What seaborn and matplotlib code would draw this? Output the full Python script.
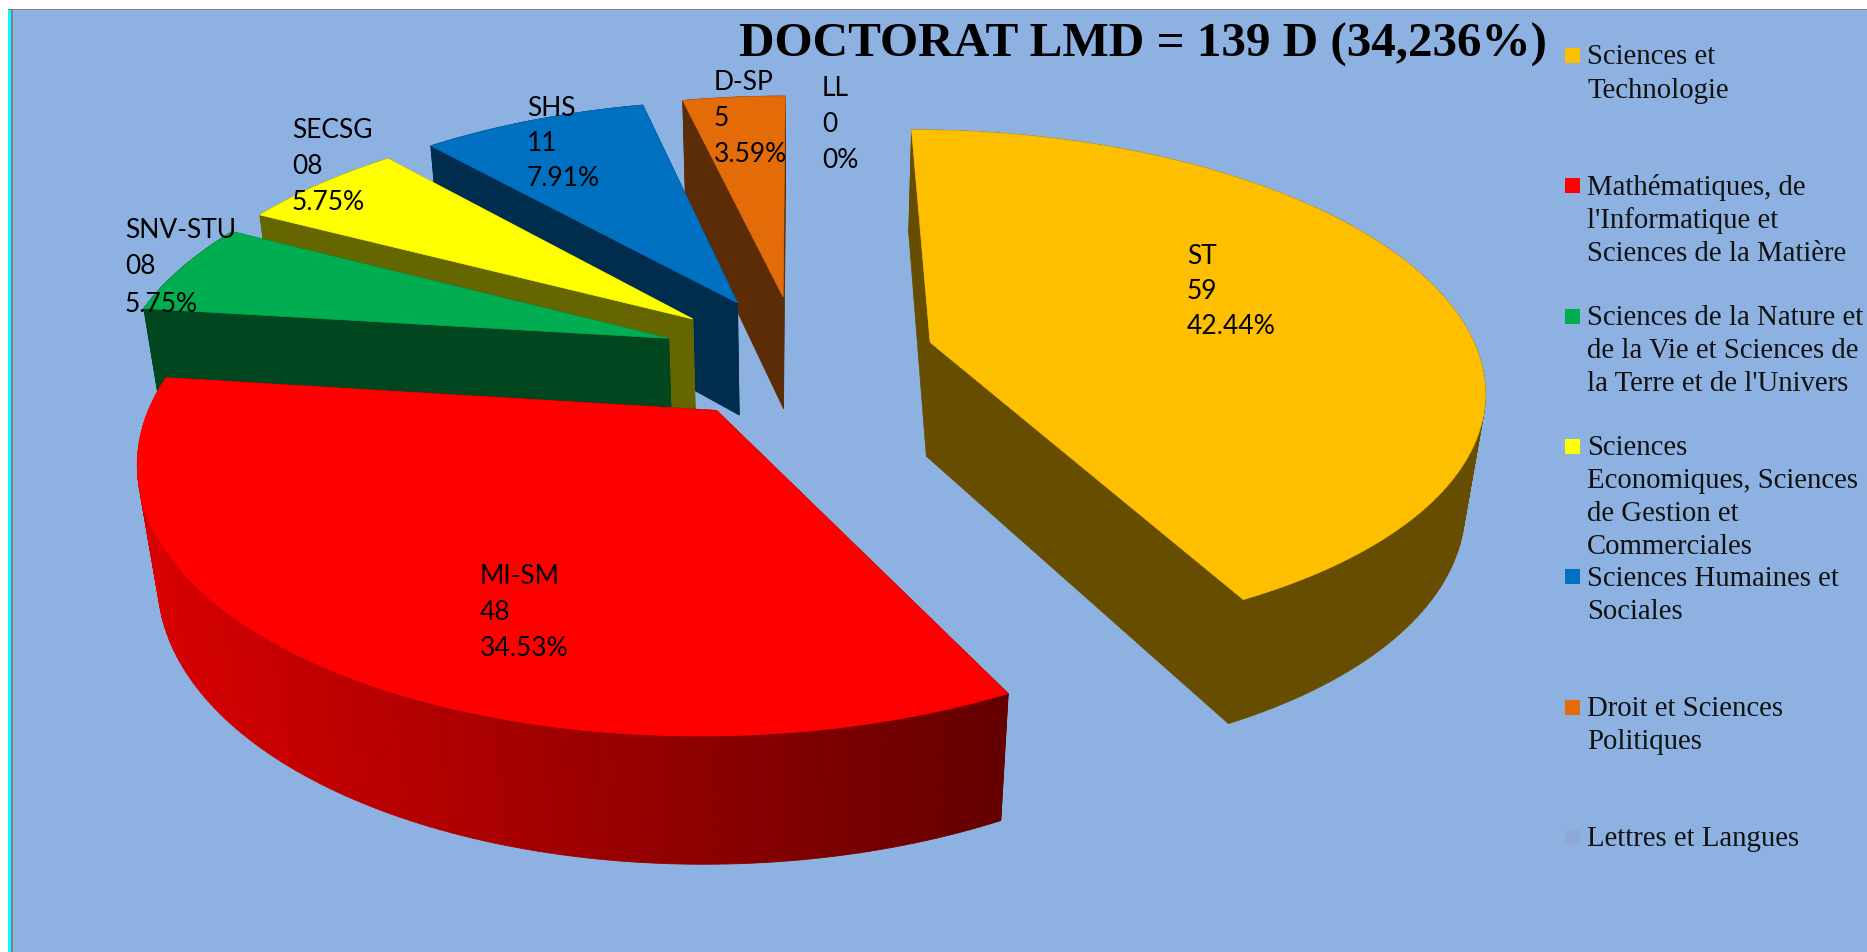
import matplotlib
matplotlib.use('Agg')
import matplotlib.pyplot as plt
from matplotlib.collections import PolyCollection
from matplotlib.patches import Rectangle
import numpy as np
import seaborn as sns

# data
short_names = ['ST', 'MI-SM', 'SNV-STU', 'SECSG', 'SHS', 'D-SP', 'LL']
counts = [59, 48, 8, 8, 11, 5, 0]
count_labels = ['59', '48', '08', '08', '11', '5', '0']
percent_labels = ['42.44%', '34.53%', '5.75%', '5.75%', '7.91%', '3.59%', '0%']
legend_labels = [
    'Sciences et\nTechnologie',
    "Mathématiques, de\nl'Informatique et\nSciences de la Matière",
    "Sciences de la Nature et\nde la Vie et Sciences de\nla Terre et de l'Univers",
    'Sciences\nEconomiques, Sciences\nde Gestion et\nCommerciales',
    'Sciences Humaines et\nSociales',
    'Droit et Sciences\nPolitiques',
    'Lettres et Langues',
]
title = 'DOCTORAT LMD = 139 D (34,236%)'

# styles
top_colors = ['#fdbf00', '#ff0000', '#00ad50', '#ffff00', '#0070c0', '#e36c09', '#8fa8d4']
wall_colors = ['#664d00', '#640000', '#004720', '#666600', '#002d4d', '#5b2c05', '#8fa8d4']
bg = '#8db2e2'

# where the labels sit (pixels, left edge / first line / line pitch)
label_pos = [(1187, 257, 34.5), (480, 577, 35.5), (125, 230, 37), (292, 130, 36),
             (527, 108, 35.5), (714, 83, 36), (822, 89, 36)]

# pie model
cx, cy = 798, 357
rx, ry = 549, 252
depth = 118
persp = 0.165
persp_h = 0.03
explode = 0.25


def project(u, v, h):
    s = 1 / (1 + persp * v + persp_h * h)
    return np.column_stack([cx + rx * u * s, cy - ry * v * s + depth * h * s])


sns.set_theme(style='white')
plt.rcParams['font.family'] = ['Lato', 'DejaVu Sans']

fig = plt.figure(figsize=(18.67, 9.52), dpi=100, facecolor='white')
ax = fig.add_axes([0, 0, 1, 1])
ax.set_xlim(0, 1867)
ax.set_ylim(952, 0)
ax.axis('off')

ax.add_patch(Rectangle((8, 9), 1859, 943, fc='#808080', ec='none', zorder=0))
ax.add_patch(Rectangle((8, 10), 3, 942, fc='#00ffff', ec='none', zorder=0))
ax.add_patch(Rectangle((13, 10), 1854, 942, fc=bg, ec='none', zorder=0))

edges = np.cumsum([0] + counts) / sum(counts) * 2 * np.pi
z = 1
for i in [5, 4, 3, 2, 0, 1]:
    a0, a1 = edges[i], edges[i + 1]
    mid = (a0 + a1) / 2
    ox, oy = explode * np.sin(mid), explode * np.cos(mid)
    th = np.linspace(a0, a1, 120)
    u = ox + np.sin(th)
    v = oy + np.cos(th)
    top_arc = project(u, v, 0)
    low_arc = project(u, v, 1)
    apex_t = project(np.array([ox]), np.array([oy]), 0)
    apex_l = project(np.array([ox]), np.array([oy]), 1)

    # the two radial faces
    for j in [0, -1]:
        face = np.vstack([apex_t, top_arc[j], low_arc[j], apex_l])
        ax.fill(face[:, 0], face[:, 1], fc=wall_colors[i], ec=wall_colors[i], lw=0.5, zorder=z)
    # outer wall, the big red slice has a gradient along x
    quads = [np.vstack([top_arc[k], top_arc[k + 1], low_arc[k + 1], low_arc[k]]) for k in range(len(th) - 1)]
    if short_names[i] == 'MI-SM':
        pal = sns.blend_palette(['#d90000', '#640000'], 256)
        xs = top_arc[:-1, 0]
        idx = ((xs - xs.min()) / (xs.max() - xs.min()) * 255).astype(int)
        cols = [pal[k] for k in idx]
    else:
        cols = [wall_colors[i]] * len(quads)
    ax.add_collection(PolyCollection(quads, facecolors=cols, edgecolors=cols, linewidths=0.6, zorder=z))
    # top surface
    surf = np.vstack([apex_t, top_arc])
    ax.fill(surf[:, 0], surf[:, 1], fc=top_colors[i], ec=top_colors[i], lw=0.5, zorder=z + 0.5)
    z += 1

# data labels
for name, c, p, (x, y, dy) in zip(short_names, count_labels, percent_labels, label_pos):
    for k, line in enumerate([name, c, p]):
        ax.text(x, y + k * dy, line, fontsize=19, color='black', ha='left', va='center', zorder=20)

# legend
for i, lab in enumerate(legend_labels):
    y0 = 55.5 + 130.3 * i
    ax.add_patch(Rectangle((1565, y0 - 7.5), 15, 15, fc=top_colors[i], ec='none', zorder=20))
    for k, line in enumerate(lab.split('\n')):
        ax.text(1587, y0 + 2 + k * 33, line, fontsize=20.7, family=['Liberation Serif'], color='#111111',
                ha='left', va='center', zorder=20)

ax.text(1143, 45, title, fontsize=35.4, fontweight='bold', family=['Liberation Serif'], color='black',
        ha='center', va='center', zorder=20)

plt.savefig('out.png', dpi=100)
